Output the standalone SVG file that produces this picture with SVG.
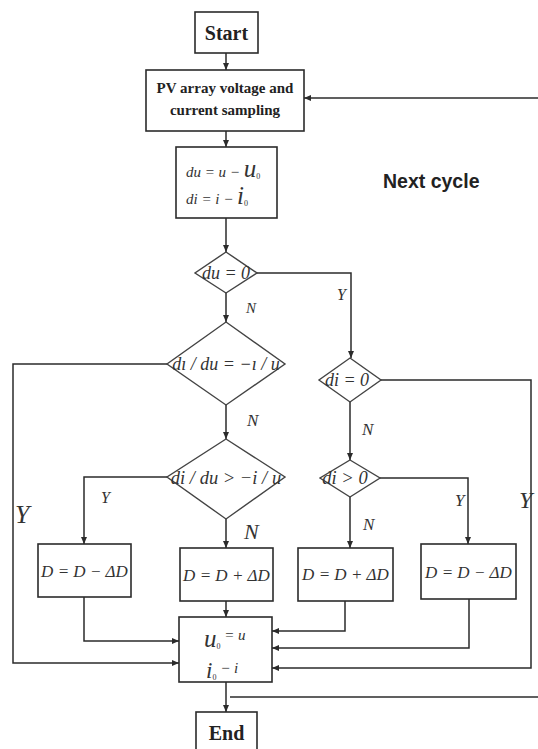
<svg xmlns="http://www.w3.org/2000/svg" width="538" height="749" viewBox="0 0 538 749">
  <defs>
    <marker id="arrow" markerUnits="userSpaceOnUse" markerWidth="7" markerHeight="6" refX="7" refY="3" orient="auto">
      <path d="M0,0 L7,3 L0,6 z" fill="#2b2b2b"/>
    </marker>
    <style>
      .box { fill: #fff; stroke: #2b2b2b; stroke-width: 1.6; }
      .dia { fill: #fff; stroke: #444; stroke-width: 1.4; }
      .wire { fill: none; stroke: #2b2b2b; stroke-width: 1.5; }
      .arr { marker-end: url(#arrow); }
      .title { font-family: "Liberation Serif", serif; font-weight: bold; fill: #222; text-anchor: middle; }
      .math { font-family: "Liberation Serif", serif; font-style: italic; fill: #333; }
      .sub { font-style: normal; fill: #333; }
      .mid { text-anchor: middle; }
      .lbl { font-family: "Liberation Serif", serif; font-style: italic; fill: #333; }
      .note { font-family: "Liberation Sans", Arial, sans-serif; font-weight: bold; fill: #222; }
    </style>
  </defs>
  <rect width="538" height="749" fill="#fff"/>

  <!-- connectors -->
  <g id="connectors">
    <path class="wire arr" d="M226,53 V70"/>
    <path class="wire arr" d="M538,98 H304"/>
    <path class="wire arr" d="M226,131 V147"/>
    <path class="wire arr" d="M226,218 V252"/>
    <path class="wire arr" d="M226,293 V322"/>
    <path class="wire arr" d="M257,273 H351 V358"/>
    <path class="wire arr" d="M167,364 H13 V663 H179"/>
    <path class="wire arr" d="M226,405 V439"/>
    <path class="wire arr" d="M167,477 H84 V544"/>
    <path class="wire arr" d="M226,519 V548"/>
    <path class="wire arr" d="M381,380 H531 V668 H272"/>
    <path class="wire arr" d="M350,402 V460"/>
    <path class="wire arr" d="M350,497 V548"/>
    <path class="wire arr" d="M380,478 H468 V544"/>
    <path class="wire arr" d="M84,597 V641 H179"/>
    <path class="wire arr" d="M226,601 V617"/>
    <path class="wire arr" d="M345,601 V631 H272"/>
    <path class="wire arr" d="M469,599 V648 H272"/>
    <path class="wire arr" d="M226,682 V712"/>
    <path class="wire" d="M230,697 H538"/>

    <!-- branch labels -->
    <text class="lbl" x="246" y="313" font-size="15">N</text>
    <text class="lbl" x="337" y="300" font-size="16">Y</text>
    <text class="lbl" x="247" y="426" font-size="17">N</text>
    <text class="lbl" x="362" y="435" font-size="17">N</text>
    <text class="lbl" x="101" y="503" font-size="16">Y</text>
    <text class="lbl" x="15" y="523" font-size="26">Y</text>
    <text class="lbl" x="244" y="539" font-size="22">N</text>
    <text class="lbl" x="363" y="530" font-size="17">N</text>
    <text class="lbl" x="455" y="506" font-size="17">Y</text>
    <text class="lbl" x="519" y="508" font-size="24">Y</text>
    <text class="note" x="383" y="188" font-size="19.5">Next cycle</text>
  </g>

  <g id="start">
    <rect class="box" x="195" y="12" width="63" height="41"/>
    <text class="title" x="226.5" y="40" font-size="20">Start</text>
  </g>

  <g id="sampling">
    <rect class="box" x="146" y="70" width="158" height="61"/>
    <text class="title" x="225" y="93" font-size="15">PV array voltage and</text>
    <text class="title" x="225" y="115" font-size="15">current sampling</text>
  </g>

  <g id="delta">
    <rect class="box" x="176" y="147" width="101" height="71"/>
    <text class="math" x="186" y="177" font-size="15">du = u − <tspan font-size="25">u</tspan><tspan class="sub" font-size="8" dy="2">0</tspan></text>
    <text class="math" x="186" y="204" font-size="15">di = i − <tspan font-size="25">i</tspan><tspan class="sub" font-size="8" dy="2">0</tspan></text>
  </g>

  <g id="du-zero">
    <polygon class="dia" points="226,252 257,273 226,293 195,273"/>
    <text class="math mid" x="226" y="279" font-size="18">du = 0</text>
  </g>

  <g id="slope-equal">
    <polygon class="dia" points="226,322 285,364 226,405 167,364"/>
    <text class="math mid" x="226" y="370" font-size="18">dı / du = −ı / u</text>
  </g>

  <g id="slope-greater">
    <polygon class="dia" points="226,439 285,477 226,519 167,477"/>
    <text class="math mid" x="226" y="484" font-size="18.5">di / du &gt; −i / u</text>
  </g>

  <g id="di-zero">
    <polygon class="dia" points="350,358 381,380 350,402 319,380"/>
    <text class="math mid" x="347" y="386" font-size="18">di = 0</text>
  </g>

  <g id="di-positive">
    <polygon class="dia" points="350,460 380,478 350,497 320,478"/>
    <text class="math mid" x="345" y="484" font-size="18.5">di &gt; 0</text>
  </g>

  <g id="dec-left">
    <rect class="box" x="38" y="544" width="93" height="53"/>
    <text class="math mid" x="84.5" y="577" font-size="17">D = D − ΔD</text>
  </g>

  <g id="inc-left">
    <rect class="box" x="180" y="548" width="93" height="53"/>
    <text class="math mid" x="226.5" y="581" font-size="17">D = D + ΔD</text>
  </g>

  <g id="inc-right">
    <rect class="box" x="298" y="548" width="95" height="53"/>
    <text class="math mid" x="345.5" y="580" font-size="17">D = D + ΔD</text>
  </g>

  <g id="dec-right">
    <rect class="box" x="421" y="544" width="95" height="55"/>
    <text class="math mid" x="468.5" y="578" font-size="17">D = D − ΔD</text>
  </g>

  <g id="update">
    <rect class="box" x="179" y="617" width="93" height="65"/>
    <text class="math" x="204" y="647" font-size="25">u<tspan class="sub" font-size="8" dy="2">0</tspan><tspan font-size="15" dy="-9"> = u</tspan></text>
    <text class="math" x="206" y="678" font-size="23">i<tspan class="sub" font-size="8" dy="2">0</tspan><tspan font-size="15" dy="-7"> − i</tspan></text>
  </g>

  <g id="end">
    <rect class="box" x="196" y="712" width="61" height="45"/>
    <text class="title" x="226.5" y="740" font-size="20">End</text>
  </g>
</svg>
